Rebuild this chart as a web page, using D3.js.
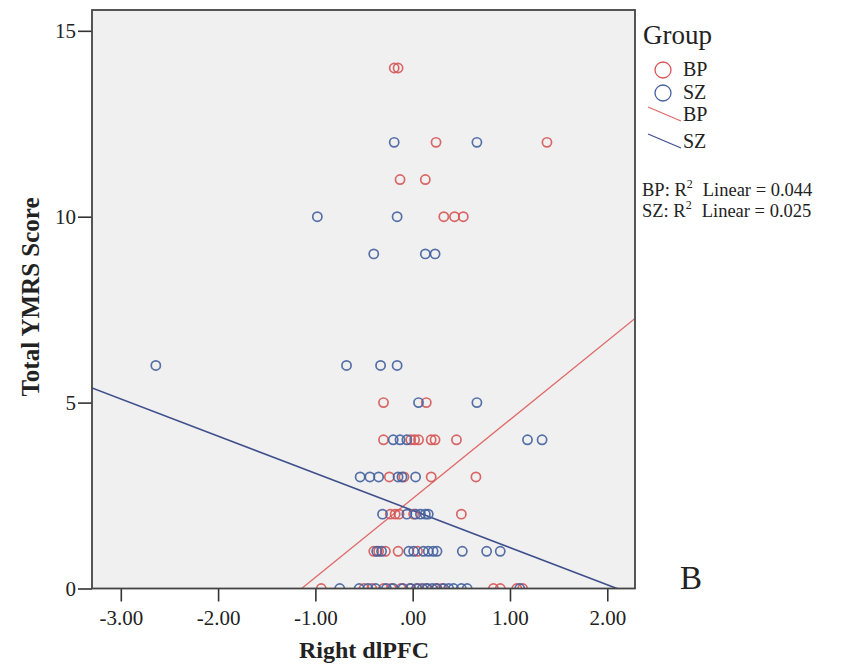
<!DOCTYPE html>
<html>
<head>
<meta charset="utf-8">
<script src="https://cdn.jsdelivr.net/npm/d3@7"></script>
<style>
  body { margin: 0; background: #ffffff; }
  text { font-family: "Liberation Serif", "Times New Roman", serif; fill: #222; }
</style>
</head>
<body>
<div id="scatter"></div>
<script>
// Scatter of YMRS score vs right dlPFC, BP and SZ groups with linear fits

// Data
// =========================
var bpX = [-0.19, -0.15,
  0.24, 1.38,
  -0.13, 0.13,
  0.32, 0.43, 0.52,
  -0.30, 0.14,
  -0.30, -0.02, 0.02, 0.06, 0.19, 0.23, 0.45,
  -0.24, -0.09, 0.19, 0.65,
  -0.23, -0.18, -0.14, 0.01, 0.50,
  -0.40, -0.35, -0.28, -0.15, 0.05,
  -0.94, -0.50, -0.42, -0.30, -0.22, -0.12, -0.03, 0.06, 0.14, 0.24, 0.30, 0.83, 0.90, 1.07, 1.13];
var bpY = [14, 14,
  12, 12,
  11, 11,
  10, 10, 10,
  5, 5,
  4, 4, 4, 4, 4, 4, 4,
  3, 3, 3, 3,
  2, 2, 2, 2, 2,
  1, 1, 1, 1, 1,
  0, 0, 0, 0, 0, 0, 0, 0, 0, 0, 0, 0, 0, 0, 0];

var szX = [-0.19, 0.66,
  -0.98, -0.16,
  -0.40, 0.13, 0.23,
  -2.64, -0.68, -0.33, -0.16,
  0.06, 0.66,
  -0.20, -0.13, -0.06, 1.18, 1.33,
  -0.54, -0.44, -0.35, -0.15, -0.11, 0.03,
  -0.31, -0.06, 0.03, 0.08, 0.13, 0.16,
  -0.37, -0.32, -0.04, 0.01, 0.11, 0.16, 0.21, 0.25, 0.51, 0.76, 0.90,
  -0.75, -0.55, -0.46, -0.38, -0.27, -0.20, -0.10, -0.02, 0.04, 0.10, 0.15, 0.20, 0.25, 0.32, 0.37, 0.42, 0.50, 0.56, 1.10];
var szY = [12, 12,
  10, 10,
  9, 9, 9,
  6, 6, 6, 6,
  5, 5,
  4, 4, 4, 4, 4,
  3, 3, 3, 3, 3, 3,
  2, 2, 2, 2, 2, 2,
  1, 1, 1, 1, 1, 1, 1, 1, 1, 1, 1,
  0, 0, 0, 0, 0, 0, 0, 0, 0, 0, 0, 0, 0, 0, 0, 0, 0, 0, 0];

// Linear fit lines (intercept, slope) and their R squared
var groups = ["BP", "SZ"];
var fitIntercept = [2.42, 2.10];
var fitSlope = [2.12, -1.00];
var rSquared = ["0.044", "0.025"];

var xTicks = [-3, -2, -1, 0, 1, 2];
var yTicks = [0, 5, 10, 15];

// Setup
// =====
var width = 848;
var height = 671;

var plotLeft = 92;
var plotRight = 635;
var plotTop = 10;
var plotBottom = 588.5;

var pointColor = { BP: "#d65656", SZ: "#44609e" };
var lineColor = { BP: "#e06a6a", SZ: "#3f4f8c" };

var svg = d3
.select("#scatter")
.append("svg")
.attr("width", width)
.attr("height", height);

var xScale = d3
.scaleLinear()
.domain([-3.296, 2.285])
.range([plotLeft, plotRight]);

var yScale = d3
.scaleLinear()
.domain([0, 15.56])
.range([plotBottom, plotTop]);

// Plot background and clip
svg
.append("defs")
.append("clipPath")
.attr("id", "plotClip")
.append("rect")
.attr("x", plotLeft)
.attr("y", plotTop)
.attr("width", plotRight - plotLeft)
.attr("height", plotBottom - plotTop);

svg
.append("rect")
.attr("x", plotLeft)
.attr("y", plotTop)
.attr("width", plotRight - plotLeft)
.attr("height", plotBottom - plotTop)
.attr("fill", "#f0f0f0");

// Axes
// ====
function fmtX(d) {
    var s = d3.format(".2f")(Math.abs(d));
    if (d === 0) {
        return ".00";
    }
    return (d < 0 ? "-" : "") + s;
}

var xAxis = d3.axisBottom(xScale)
.tickValues(xTicks)
.tickFormat(fmtX)
.tickSize(13)
.tickSizeOuter(0)
.tickPadding(9);

var yAxis = d3.axisLeft(yScale)
.tickValues(yTicks)
.tickFormat(d3.format("d"))
.tickSize(14)
.tickSizeOuter(0)
.tickPadding(2);

var gx = svg
.append("g")
.attr("transform", "translate(0," + plotBottom + ")")
.call(xAxis);

var gy = svg
.append("g")
.attr("transform", "translate(" + plotLeft + ",0)")
.call(yAxis);

[gx, gy].forEach(function(g) {
    g.select(".domain").remove();
    g.selectAll(".tick line").attr("stroke", "#333").attr("stroke-width", 1.6);
    g.selectAll(".tick text")
    .attr("fill", "#333")
    .style("font-family", "Liberation Serif, serif")
    .style("font-size", "21px");
});

// Points
// ======
var points = [];
bpX.forEach(function(x, i) { points.push({ g: "BP", x: x, y: bpY[i] }); });
szX.forEach(function(x, i) { points.push({ g: "SZ", x: x, y: szY[i] }); });

var dataLayer = svg.append("g").attr("clip-path", "url(#plotClip)");

// Fit lines across the whole x range
groups.forEach(function(g, i) {
    var x0 = xScale.domain()[0];
    var x1 = xScale.domain()[1];
    dataLayer
    .append("line")
    .attr("x1", xScale(x0))
    .attr("y1", yScale(fitIntercept[i] + fitSlope[i] * x0))
    .attr("x2", xScale(x1))
    .attr("y2", yScale(fitIntercept[i] + fitSlope[i] * x1))
    .attr("stroke", lineColor[g])
    .attr("stroke-width", g === "BP" ? 1.3 : 1.6);
});

dataLayer
.selectAll("circle")
.data(points)
.enter()
.append("circle")
.attr("cx", function(d) { return xScale(d.x); })
.attr("cy", function(d) { return yScale(d.y); })
.attr("r", 4.6)
.attr("fill", "none")
.attr("stroke", function(d) { return pointColor[d.g]; })
.attr("stroke-width", 1.7)
.attr("stroke-opacity", 0.9);

// Frame on top
svg
.append("rect")
.attr("x", plotLeft)
.attr("y", plotTop)
.attr("width", plotRight - plotLeft)
.attr("height", plotBottom - plotTop)
.attr("fill", "none")
.attr("stroke", "#444")
.attr("stroke-width", 1.8);

// Axis titles
svg
.append("text")
.attr("x", 364)
.attr("y", 658)
.attr("text-anchor", "middle")
.style("font-weight", "bold")
.style("font-size", "24px")
.text("Right dlPFC");

svg
.append("text")
.attr("transform", "translate(39,297)rotate(-90)")
.attr("text-anchor", "middle")
.style("font-weight", "bold")
.style("font-size", "25px")
.text("Total YMRS Score");

// Panel letter
svg
.append("text")
.attr("x", 680)
.attr("y", 589)
.style("font-size", "33px")
.text("B");

// Legend
// ======
var legend = svg.append("g");

legend
.append("text")
.attr("x", 643)
.attr("y", 44)
.style("font-size", "27px")
.text("Group");

groups.forEach(function(g, i) {
    var cy = 70 + i * 23;
    legend
    .append("circle")
    .attr("cx", 663)
    .attr("cy", cy)
    .attr("r", 8)
    .attr("fill", "none")
    .attr("stroke", pointColor[g])
    .attr("stroke-width", 1.3);
    legend
    .append("text")
    .attr("x", 683)
    .attr("y", cy + 6)
    .style("font-size", "20px")
    .text(g);
});

groups.forEach(function(g, i) {
    var ly = 107 + i * 27;
    legend
    .append("line")
    .attr("x1", 648)
    .attr("y1", ly)
    .attr("x2", 681)
    .attr("y2", ly + 14)
    .attr("stroke", lineColor[g])
    .attr("stroke-width", 1.3);
    legend
    .append("text")
    .attr("x", 683)
    .attr("y", ly + 14)
    .style("font-size", "20px")
    .text(g);
});

groups.forEach(function(g, i) {
    var t = legend
    .append("text")
    .attr("x", 642)
    .attr("y", 196 + i * 21)
    .style("font-size", "18.5px");
    t.append("tspan").text(g + ": R");
    t.append("tspan").attr("dy", -8).style("font-size", "12px").text("2");
    t.append("tspan").attr("dy", 8).attr("dx", 10).text("Linear = " + rSquared[i]);
});
</script>
</body>
</html>
